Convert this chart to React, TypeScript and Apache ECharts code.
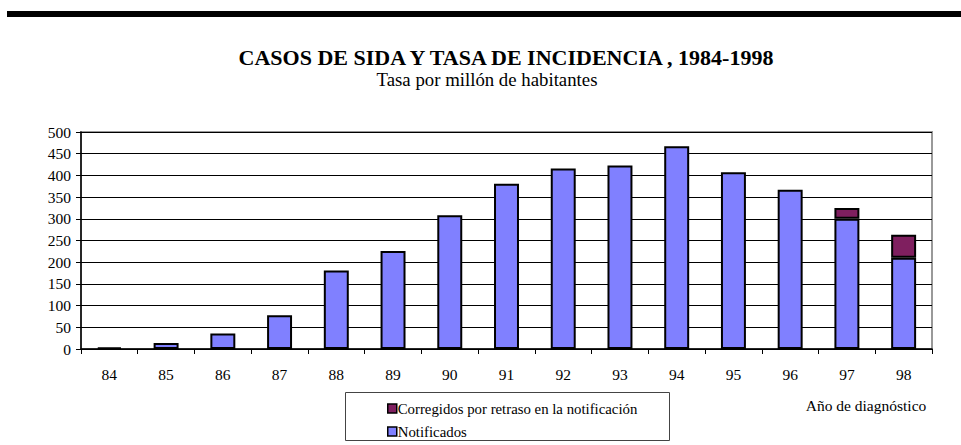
import React, { useEffect, useRef } from "react";
import * as echarts from "echarts";

const categories = ["84", "85", "86", "87", "88", "89", "90", "91", "92", "93", "94", "95", "96", "97", "98"];
const notificados = [4, 14, 36, 78, 181, 226, 308, 381, 416, 423, 467, 407, 367, 300, 210];
const corregidos = [0, 0, 0, 0, 0, 0, 0, 0, 0, 0, 0, 0, 0, 25, 53];
const yTicks = { min: 0, max: 500, interval: 50 };

const titleText = "CASOS DE SIDA Y TASA DE INCIDENCIA , 1984-1998";
const subtitleText = "Tasa por millón de habitantes";
const nameNotif = "Notificados";
const nameCorr = "Corregidos por retraso en la notificación";
const xAxisTitle = "Año de diagnóstico";

const FONT = "Liberation Serif";

export default function App() {
  const ref = useRef<HTMLDivElement>(null);
  useEffect(() => {
    if (!ref.current) return;
    const chart = echarts.init(ref.current, undefined, { renderer: "svg" });
    chart.setOption({
      animation: false,
      textStyle: { fontFamily: FONT, color: "#000" },
      title: [
        {
          text: titleText,
          left: 501,
          top: 41,
          textAlign: "center",
          textStyle: { fontFamily: FONT, fontSize: 22, fontWeight: "bold", color: "#000" },
        },
        {
          text: subtitleText,
          left: 482,
          top: 65,
          textAlign: "center",
          textStyle: { fontFamily: FONT, fontSize: 18.8, fontWeight: "normal", color: "#000" },
        },
      ],
      legend: {
        orient: "vertical",
        left: 382,
        top: 396,
        itemWidth: 9,
        itemHeight: 9,
        itemGap: 8,
        icon: "rect",
        data: [nameCorr, nameNotif],
        textStyle: { fontFamily: FONT, fontSize: 14.8, color: "#000", padding: [3, 0, 0, -4] },
        itemStyle: { borderColor: "#000", borderWidth: 1.5 },
      },
      grid: {
        left: 81,
        top: 132,
        width: 851,
        height: 217,
        show: true,
        borderColor: "#999",
        borderWidth: 2,
        backgroundColor: "transparent",
      },
      xAxis: {
        type: "category",
        data: categories,
        axisLine: { lineStyle: { color: "#000", width: 1.5 } },
        axisTick: { show: true, length: 5, lineStyle: { color: "#000" } },
        axisLabel: { fontFamily: FONT, fontSize: 15.5, color: "#000", margin: 17 },
      },
      yAxis: {
        type: "value",
        min: yTicks.min,
        max: yTicks.max,
        interval: yTicks.interval,
        axisLine: { show: true, lineStyle: { color: "#000", width: 1.5 } },
        axisTick: { show: true, length: 5, lineStyle: { color: "#000" } },
        axisLabel: { fontFamily: FONT, fontSize: 15.5, color: "#000", margin: 10 },
        splitLine: { lineStyle: { color: "#000", width: 1 } },
      },
      series: [
        {
          name: nameNotif,
          type: "bar",
          stack: "total",
          data: notificados,
          barWidth: "44%",
          itemStyle: { color: "#8080FF", borderColor: "#000", borderWidth: 2 },
        },
        {
          name: nameCorr,
          type: "bar",
          stack: "total",
          data: corregidos.map((v) => (v === 0 ? "-" : v)),
          barWidth: "44%",
          itemStyle: { color: "#7F1F5F", borderColor: "#000", borderWidth: 2 },
        },
      ],
      graphic: [
        {
          type: "rect",
          shape: { x: 7, y: 11, width: 954, height: 6 },
          style: { fill: "#000" },
        },
        {
          type: "rect",
          shape: { x: 345.5, y: 392.5, width: 324, height: 48 },
          style: { fill: "transparent", stroke: "#444", lineWidth: 1 },
          z: -1,
        },
        {
          type: "text",
          x: 866,
          y: 405,
          style: {
            text: xAxisTitle,
            font: `15.5px ${FONT}`,
            fill: "#000",
            textAlign: "center",
            textVerticalAlign: "middle",
          },
        },
      ],
    });
    return () => chart.dispose();
  }, []);
  return (
    <div
      ref={ref}
      style={{ position: "absolute", left: 0, top: 0, width: 961, height: 445 }}
    />
  );
}
